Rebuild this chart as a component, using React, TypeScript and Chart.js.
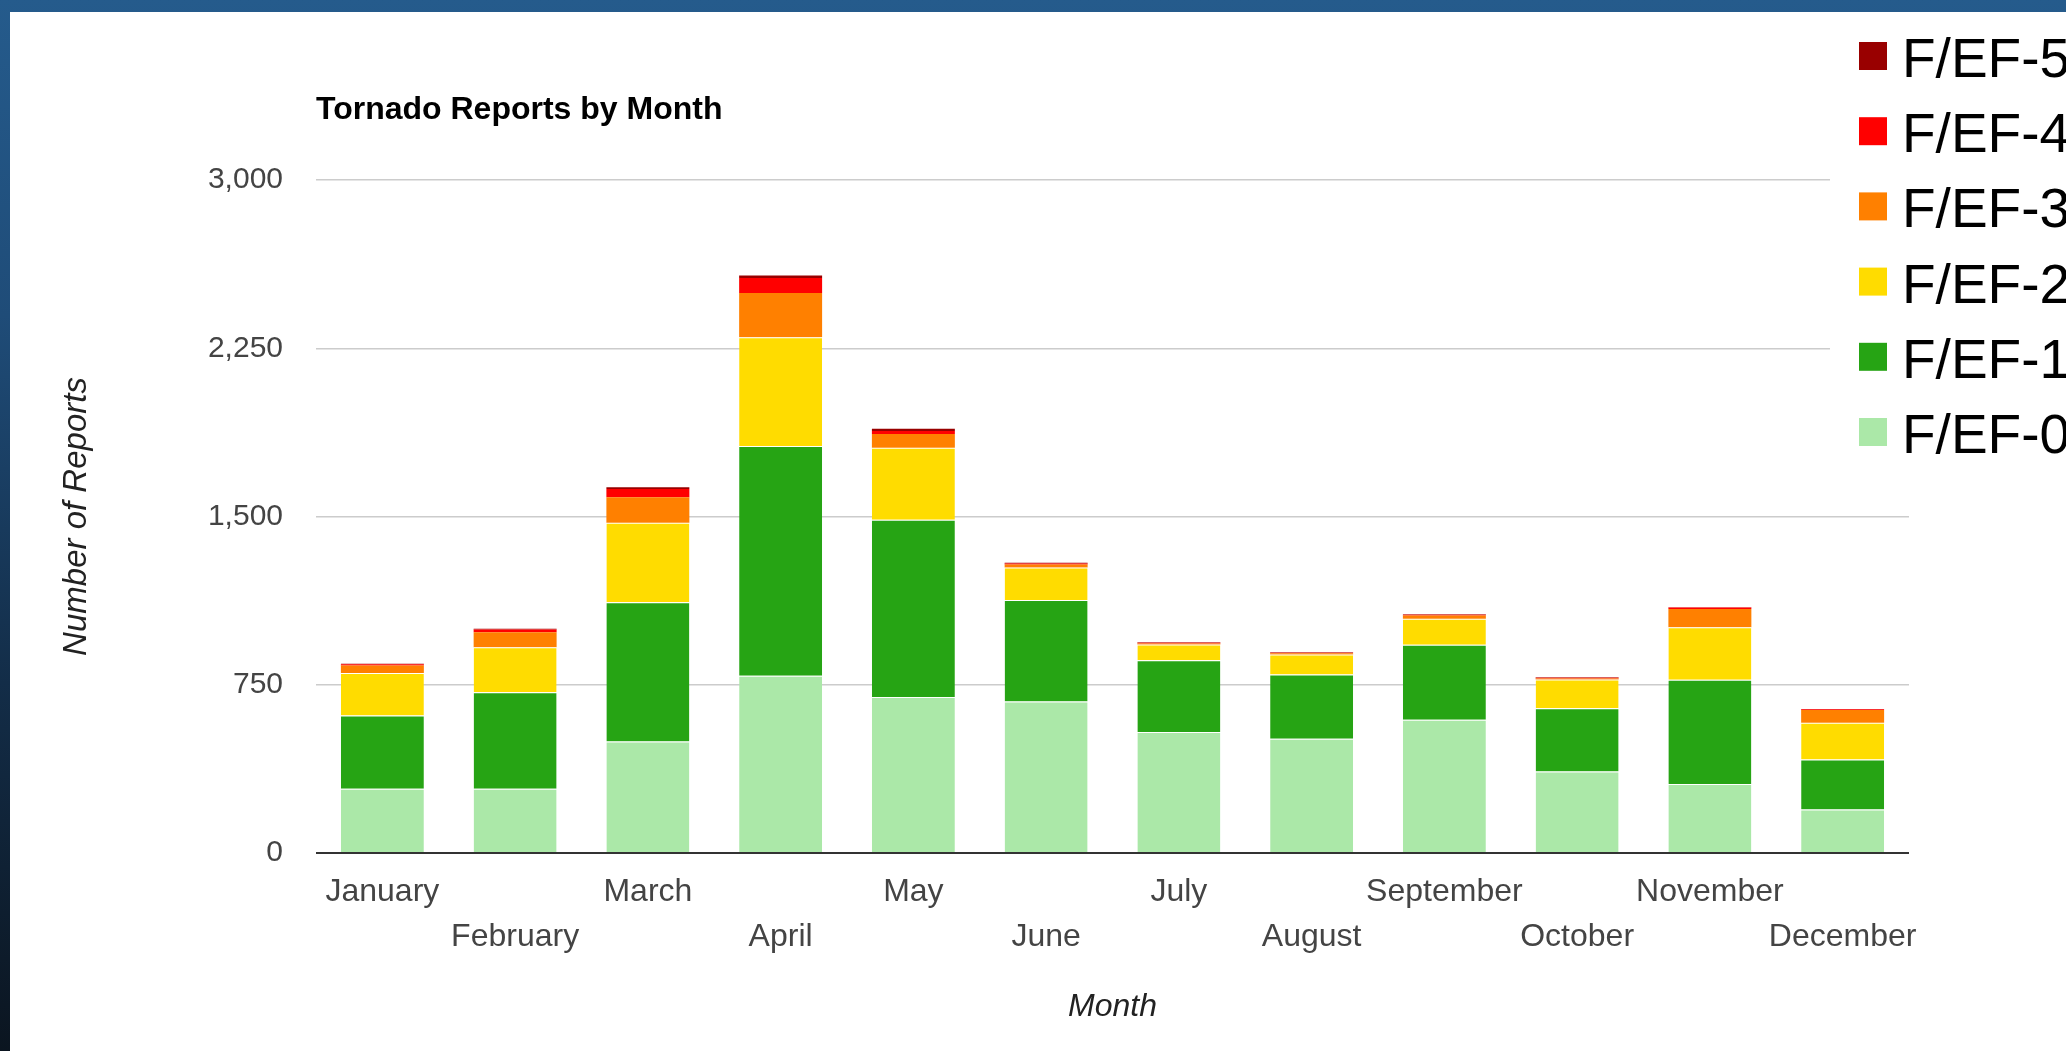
import React, { useEffect, useRef } from 'react';
import { Chart, registerables } from 'chart.js';

Chart.register(...registerables);

// ---- data ----
const months = ['January', 'February', 'March', 'April', 'May', 'June', 'July', 'August', 'September', 'October', 'November', 'December'];
const seriesNames = ['F/EF-0', 'F/EF-1', 'F/EF-2', 'F/EF-3', 'F/EF-4', 'F/EF-5'];
const seriesColors = ['#abe8a8', '#26a414', '#ffdc00', '#ff8000', '#ff0000', '#990000'];
const ef0 = [286, 286, 497, 790, 695, 675, 539, 509, 594, 363, 308, 194];
const ef1 = [327, 431, 621, 1024, 791, 453, 320, 287, 334, 282, 464, 223];
const ef2 = [189, 200, 354, 485, 320, 145, 70, 89, 116, 128, 234, 164];
const ef3 = [34, 67, 114, 197, 62, 13, 5, 5, 15, 5, 82, 57];
const ef4 = [5, 12, 37, 67, 13, 5, 3, 3, 3, 3, 6, 3];
const ef5 = [3, 4, 7, 11, 10, 3, 2, 2, 2, 2, 2, 1];
const yTicks = [0, 750, 1500, 2250, 3000];
const chartTitle = 'Tornado Reports by Month';
const xTitle = 'Month';
const yTitle = 'Number of Reports';

const FONT = 'Arial, "Liberation Sans", sans-serif';

const sideLegend = {
  id: 'sideLegend',
  afterDraw(chart: any) {
    const ctx = chart.ctx;
    const area = chart.chartArea;
    ctx.save();
    const boxLeft = area.right - 79;
    ctx.fillStyle = '#ffffff';
    ctx.fillRect(boxLeft, 0, chart.width - boxLeft, 458);
    const items = chart.data.datasets.map((d: any) => ({ label: d.label, color: d.backgroundColor })).reverse();
    ctx.font = '55px ' + FONT;
    ctx.textAlign = 'left';
    ctx.textBaseline = 'alphabetic';
    items.forEach((it: any, i: number) => {
      const top = 30 + i * 75.2;
      ctx.fillStyle = it.color;
      ctx.fillRect(area.right - 50, top, 28, 28);
      ctx.fillStyle = '#000000';
      ctx.fillText(it.label, area.right - 7, top + 35);
    });
    ctx.restore();
  },
};

export default function App() {
  const ref = useRef<HTMLCanvasElement | null>(null);

  useEffect(() => {
    if (!ref.current) return;
    const series = [ef0, ef1, ef2, ef3, ef4, ef5];
    const chart = new Chart(ref.current, {
      type: 'bar',
      data: {
        labels: months,
        datasets: series.map((data, i) => ({
          label: seriesNames[i],
          data,
          backgroundColor: seriesColors[i],
          borderColor: 'rgba(255,255,255,0.7)',
          borderWidth: i < 3 ? { top: 1, left: 0, right: 0, bottom: 0 } : 0,
          barPercentage: 0.625,
          categoryPercentage: 1,
        })),
      },
      options: {
        responsive: false,
        animation: false,
        devicePixelRatio: 1,
        layout: { padding: { left: 0, right: 201, top: 0, bottom: 0 } },
        plugins: {
          legend: { display: false },
          tooltip: { enabled: false },
          title: {
            display: true,
            text: chartTitle,
            align: 'start',
            fullSize: false,
            color: '#000000',
            font: { family: FONT, size: 32, weight: 'bold' },
            padding: { top: 79, bottom: 50.6 },
          },
        },
        scales: {
          x: {
            stacked: true,
            afterFit: (axis: any) => { axis.height = 198; },
            grid: { display: false, drawTicks: false },
            border: { display: false },
            ticks: {
              autoSkip: false,
              maxRotation: 0,
              minRotation: 0,
              padding: 17,
              color: '#444444',
              font: { family: FONT, size: 32, lineHeight: 1.4 },
              callback: (_v: any, i: number) => (i % 2 === 0 ? [months[i]] : ['', months[i]]),
            },
            title: {
              display: true,
              text: xTitle,
              color: '#222222',
              font: { family: FONT, size: 32, style: 'italic' },
              padding: { top: 0, bottom: 25 },
            },
          },
          y: {
            stacked: true,
            min: 0,
            max: 3000,
            afterBuildTicks: (axis: any) => { axis.ticks = yTicks.map((v) => ({ value: v })); },
            afterFit: (axis: any) => { axis.width = 306; },
            grid: {
              drawTicks: false,
              color: (c: any) => (c.tick && c.tick.value === 0 ? '#333333' : '#cccccc'),
              lineWidth: (c: any) => (c.tick && c.tick.value === 0 ? 2 : 1.5),
            },
            border: { display: false },
            ticks: {
              padding: 33,
              color: '#444444',
              font: { family: FONT, size: 30 },
              callback: (v: any) => Number(v).toLocaleString('en-US'),
            },
            title: {
              display: true,
              text: yTitle,
              color: '#222222',
              font: { family: FONT, size: 33, style: 'italic' },
              padding: { top: 47, bottom: 0 },
            },
          },
        },
      } as any,
      plugins: [sideLegend],
    });
    return () => chart.destroy();
  }, []);

  return (
    <div
      style={{
        position: 'fixed',
        inset: 0,
        overflow: 'hidden',
        background: 'linear-gradient(to bottom, #255b8c 0%, #1f4c78 30%, #132d48 65%, #0b1520 100%)',
      }}
    >
      <div
        style={{
          position: 'absolute',
          left: 10,
          top: 12,
          width: 2100,
          height: 1039,
          background: '#ffffff',
        }}
      >
        <canvas ref={ref} width={2100} height={1039} style={{ width: 2100, height: 1039, display: 'block' }} />
      </div>
    </div>
  );
}
